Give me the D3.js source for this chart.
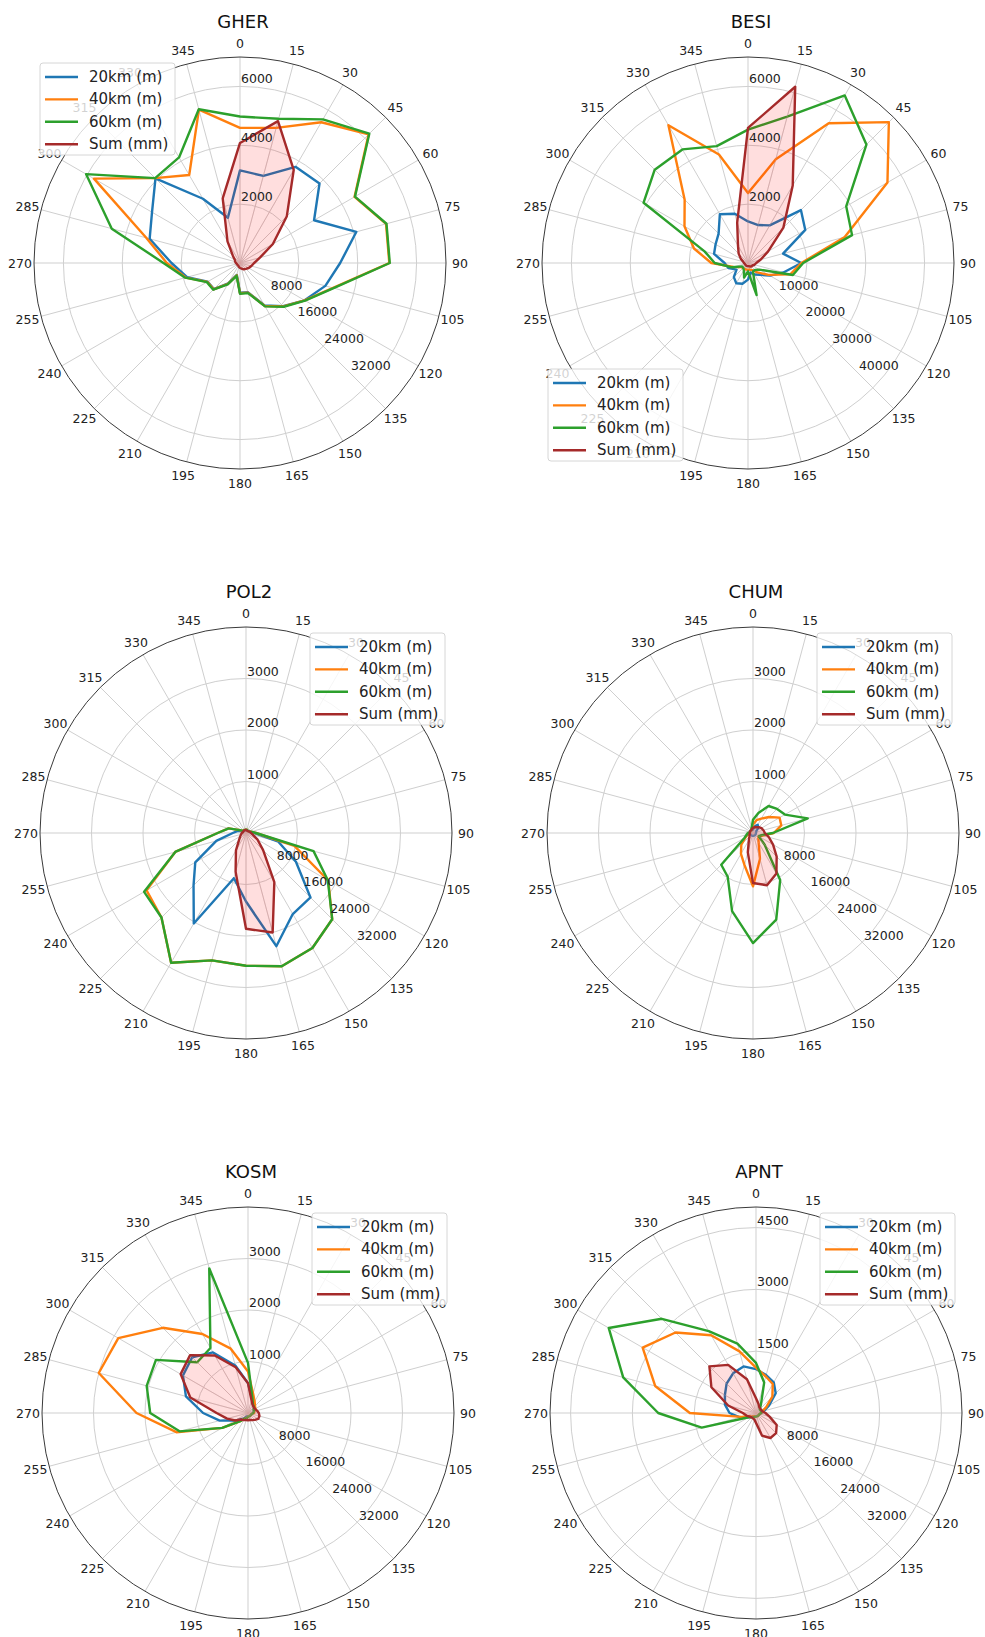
<!DOCTYPE html>
<html>
<head>
<meta charset="utf-8">
<script src="https://cdn.jsdelivr.net/npm/d3@7"></script>
<style>
	body { margin: 0; background: #fff; }
	svg { font-family: "DejaVu Sans", sans-serif; }
</style>
</head>
<body>
<script>
// direction bins (degrees, clockwise from north)
const angles = d3.range(0, 360, 15);
const seriesNames = ["20km (m)", "40km (m)", "60km (m)", "Sum (mm)"];
const colors = ["#1f77b4", "#ff7f0e", "#2ca02c", "#a52a2a"];

// radial tick labels
const sumTicks2000 = [2000, 4000, 6000];
const sumTicks1000 = [1000, 2000, 3000];
const sumTicks1500 = [1500, 3000, 4500];
const distTicks8000 = [8000, 16000, 24000, 32000];
const distTicks10000 = [10000, 20000, 30000, 40000];

// GHER
const gher20 = [19600,19100,23500,23800,18100,25500,21200,18700,15800,12900,10400,6400,6300,2600,5000,7800,7900,11600,14500,19800,21500,25300,15700,9900];
const gher40 = [28600,29600,34400,38500,28000,32000,31600,20400,15800,13000,10500,6500,6400,2700,5100,7900,8000,11900,15500,20500,35700,25400,21500,33600];
const gher60 = [31000,31600,35100,38700,28100,32100,31700,20500,15900,13100,10600,6600,6500,2800,5200,8000,8100,12000,16200,28100,37600,25400,25800,33700];
const gherSum = [4080,4990,3650,2250,1290,700,480,400,340,280,250,200,170,140,110,110,110,110,140,170,200,340,850,2270];

// BESI
const besi20 = [11000,10400,11500,19800,17500,9600,14100,9700,6700,4400,3500,2600,4400,5700,6200,5300,3500,5300,6200,9300,9900,11000,14900,13500];
const besi40 = [18500,28400,42700,52700,42600,26500,14100,11600,6300,3500,2200,1800,1800,1800,1800,1800,2200,4000,9700,14800,19400,23700,42100,29700];
const besi60 = [35300,40100,51200,44300,30000,28500,14600,12300,3500,2600,2600,8800,2200,4000,2200,1800,1800,4400,8800,11900,31900,34900,34700,32000];
const besiSum = [4590,6200,3040,1700,790,450,280,230,170,170,140,110,110,110,110,110,110,110,140,170,280,450,680,1420];

// POL2
const pol20 = [600,600,600,600,700,800,1800,7100,12200,19300,19800,24800,14500,9900,22100,15700,12400,6500,2800,1800,800,600,600,600];
const pol40 = [700,700,600,600,700,1100,2100,10600,20100,25800,28100,29200,28100,27900,31700,25300,24300,15500,6000,3800,1100,700,700,700];
const pol60 = [700,700,600,600,700,1100,2100,14800,20000,25800,28100,29200,28100,27900,31700,25300,24900,15500,6000,3800,1100,700,700,700];
const polSum = [60,50,50,50,60,80,100,140,260,470,1100,2000,1860,780,390,190,130,100,80,60,60,60,60,60];

// CHUM
const chum20 = [800,1400,2000,1600,800,700,600,600,600,600,600,600,600,600,600,600,600,600,600,600,600,600,600,600];
const chum40 = [1800,2800,3500,4800,6500,6200,4400,2100,1400,1600,2400,5700,11300,7000,5100,3500,1800,1100,700,600,600,600,700,1100];
const chum60 = [2800,4400,6600,7200,7800,12000,4200,1800,1400,3500,11500,19000,23300,17100,10700,9500,2100,1400,1100,700,700,700,700,1100];
const chumSum = [100,120,130,160,190,210,230,320,450,650,910,1050,970,390,160,100,80,65,65,65,65,65,65,80];

// KOSM
const kosm20 = [6300,3200,2100,1800,1400,1300,1100,800,700,700,700,700,700,700,1100,1800,3200,6200,9500,13600,15900,16700,14800,10400];
const kosm40 = [8800,4200,2800,2100,1800,1400,1300,800,700,700,700,700,800,1100,1400,2500,6300,15700,23600,32700,31700,25500,19300,14100];
const kosm60 = [10600,3500,2100,1800,1400,1300,1100,800,700,700,700,700,800,1100,1400,2500,6300,15000,20700,22200,22500,15200,15900,31700];
const kosmSum = [580,260,180,160,160,180,210,230,230,190,160,140,140,140,160,180,290,420,610,1160,1510,1590,1290,920];

// APNT
const apnt20 = [9300,8300,7500,5900,3200,1800,1100,800,700,700,700,700,700,700,800,1100,1800,3500,5600,6800,7600,8800,9700,10200];
const apnt40 = [9600,8000,7100,4900,2500,1400,1100,800,700,700,700,700,700,700,800,1100,1400,3200,14000,22100,27700,24100,19000,13500];
const apnt60 = [10600,6700,2100,1100,1100,1100,1100,800,700,700,700,700,700,800,1100,1300,1800,11900,20700,29100,36000,28200,20000,15200];
const apntSum = [360,230,160,150,150,160,230,340,580,690,700,570,240,160,150,150,180,240,320,700,1250,1600,1350,850];

const panels = [
	{name: "GHER", cx: 240, cy: 263, series: [gher20, gher40, gher60], sum: gherSum, sumMax: 7000, sumTicks: sumTicks2000, distMax: 43600, distTicks: distTicks8000, legend: "ul"},
	{name: "BESI", cx: 748, cy: 263, series: [besi20, besi40, besi60], sum: besiSum, sumMax: 7000, sumTicks: sumTicks2000, distMax: 54500, distTicks: distTicks10000, legend: "ll"},
	{name: "POL2", cx: 246, cy: 833, series: [pol20, pol40, pol60], sum: polSum, sumMax: 4000, sumTicks: sumTicks1000, distMax: 43600, distTicks: distTicks8000, legend: "ur"},
	{name: "CHUM", cx: 753, cy: 833, series: [chum20, chum40, chum60], sum: chumSum, sumMax: 4000, sumTicks: sumTicks1000, distMax: 43600, distTicks: distTicks8000, legend: "ur"},
	{name: "KOSM", cx: 248, cy: 1413, series: [kosm20, kosm40, kosm60], sum: kosmSum, sumMax: 4000, sumTicks: sumTicks1000, distMax: 43600, distTicks: distTicks8000, legend: "ur"},
	{name: "APNT", cx: 756, cy: 1413, series: [apnt20, apnt40, apnt60], sum: apntSum, sumMax: 5000, sumTicks: sumTicks1500, distMax: 43600, distTicks: distTicks8000, legend: "ur"}
];

const R = 206;
const rad = a => a * Math.PI / 180;

const svg = d3.select("body").append("svg")
	.attr("width", 985)
	.attr("height", 1637)
	.attr("viewBox", [0, 0, 985, 1637]);

panels.forEach(p => {
	const g = svg.append("g").attr("transform", `translate(${p.cx},${p.cy})`);

	const rSum = d3.scaleLinear().domain([0, p.sumMax]).range([0, R]);
	const rDist = d3.scaleLinear().domain([0, p.distMax]).range([0, R]);

	//grid circles
	g.append("g").selectAll("circle")
		.data(p.sumTicks)
		.join("circle")
			.attr("r", d => rSum(d))
			.attr("fill", "none")
			.attr("stroke", "#cfcfcf")
			.attr("stroke-width", 1);

	//spokes
	g.append("g").selectAll("line")
		.data(angles)
		.join("line")
			.attr("x2", a => R * Math.sin(rad(a)))
			.attr("y2", a => -R * Math.cos(rad(a)))
			.attr("stroke", "#cfcfcf")
			.attr("stroke-width", 1);

	g.append("circle")
		.attr("r", R)
		.attr("fill", "none")
		.attr("stroke", "#3a3a3a")
		.attr("stroke-width", 1);

	//distance series
	const line = d3.lineRadial()
		.angle((d, i) => rad(angles[i]))
		.curve(d3.curveLinearClosed);

	p.series.forEach((vals, k) => {
		g.append("path")
			.datum(vals)
			.attr("d", line.radius(v => rDist(v)))
			.attr("fill", "none")
			.attr("stroke", colors[k])
			.attr("stroke-width", 2.4)
			.attr("stroke-linejoin", "round");
	});

	//sum (filled)
	const sumLine = d3.lineRadial()
		.angle((d, i) => rad(angles[i]))
		.radius(v => rSum(v))
		.curve(d3.curveLinearClosed);

	g.append("path")
		.datum(p.sum)
		.attr("d", sumLine)
		.attr("fill", "red")
		.attr("fill-opacity", 0.13)
		.attr("stroke", "none");

	g.append("g").selectAll("line")
		.data(p.sum)
		.join("line")
			.attr("x2", (v, i) => rSum(v) * Math.sin(rad(angles[i])))
			.attr("y2", (v, i) => -rSum(v) * Math.cos(rad(angles[i])))
			.attr("stroke", "#d9a0a0")
			.attr("stroke-opacity", 0.5)
			.attr("stroke-width", 0.6);

	g.append("path")
		.datum(p.sum)
		.attr("d", sumLine)
		.attr("fill", "none")
		.attr("stroke", colors[3])
		.attr("stroke-width", 2.4)
		.attr("stroke-linejoin", "round");

	//angle labels
	g.append("g")
		.attr("font-size", 12.5)
		.attr("fill", "#222")
		.selectAll("text")
		.data(angles)
		.join("text")
			.attr("x", a => 220 * Math.sin(rad(a)))
			.attr("y", a => -220 * Math.cos(rad(a)))
			.attr("text-anchor", "middle")
			.attr("dominant-baseline", "central")
			.text(a => a);

	//radial labels: sum along north, distance along 135
	g.append("g")
		.attr("font-size", 12.5)
		.attr("fill", "#222")
		.selectAll("text")
		.data(p.sumTicks)
		.join("text")
			.attr("x", 1)
			.attr("y", d => -rSum(d) - 3)
			.text(d => d);

	g.append("g")
		.attr("font-size", 12.5)
		.attr("fill", "#222")
		.selectAll("text")
		.data(p.distTicks)
		.join("text")
			.attr("x", d => rDist(d) * Math.sin(rad(135)) + 4)
			.attr("y", d => -rDist(d) * Math.cos(rad(135)))
			.text(d => d);

	//title
	g.append("text")
		.attr("x", 3)
		.attr("y", -235)
		.attr("text-anchor", "middle")
		.attr("font-size", 18)
		.attr("fill", "#111")
		.text(p.name);

	//legend
	const lw = 135, lh = 92;
	const pos = {ul: [-200, -200], ll: [-200, 106], ur: [64, -200]}[p.legend];
	const lg = g.append("g").attr("transform", `translate(${pos[0]},${pos[1]})`);
	lg.append("rect")
		.attr("width", lw)
		.attr("height", lh)
		.attr("rx", 3)
		.attr("fill", "white")
		.attr("fill-opacity", 0.8)
		.attr("stroke", "#cccccc")
		.attr("stroke-width", 0.8);
	const item = lg.selectAll("g")
		.data(seriesNames)
		.join("g")
			.attr("transform", (d, i) => `translate(0,${14 + i * 22.4})`);
	item.append("line")
		.attr("x1", 5)
		.attr("x2", 38)
		.attr("stroke", (d, i) => colors[i])
		.attr("stroke-width", 2.4);
	item.append("text")
		.attr("x", 49)
		.attr("dominant-baseline", "central")
		.attr("font-size", 15)
		.attr("fill", "#222")
		.text(d => d);
});
</script>
</body>
</html>
